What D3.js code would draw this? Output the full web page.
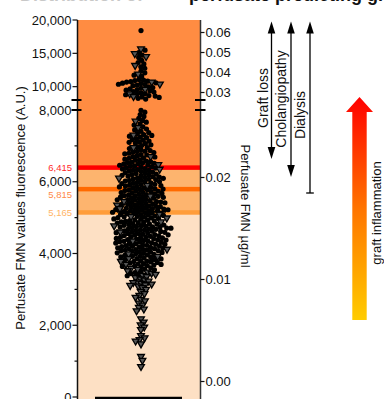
<!DOCTYPE html>
<html>
<head>
<meta charset="utf-8">
<script src="https://cdn.jsdelivr.net/npm/d3@7"></script>
<style>
  body { margin: 0; background: #fff; }
  svg { display: block; font-family: Arial, "Liberation Sans", sans-serif; }
</style>
</head>
<body>
<div id="chart"></div>
<script>
// perfusate FMN fluorescence (A.U.) per donor liver
var circleVals = [
  18420, 15480, 15120, 14730, 14380, 13950, 13620, 13410, 12980, 12760, 12350, 12080, 11720, 11540,
  11060, 10980, 10910, 10820, 10760, 10690, 10580, 10530, 10470, 10360, 10310, 10230, 10150,
  9980, 9870, 9760, 9690, 9540, 9470, 9380, 9260, 9190, 9070, 8960, 8880, 8790, 8670, 8590, 8460, 8380, 8250, 8140,
  7990, 7940, 7875, 7820,
  7765, 7710, 7660, 7615, 7580, 7530, 7470, 7445, 7405, 7370,
  7345, 7315, 7290, 7270, 7245, 7230, 7200, 7175, 7160, 7135, 7110, 7100, 7080,
  7060, 7030, 7010, 6970, 6955, 6925, 6890, 6870, 6850, 6845, 6830,
  6815, 6795, 6780, 6755, 6745, 6720, 6700, 6690, 6660, 6655, 6630, 6610, 6600, 6575, 6565, 6545, 6535, 6525,
  6515, 6500, 6490, 6465, 6460, 6440, 6430, 6420, 6405, 6395, 6380, 6365, 6355, 6340, 6320, 6315, 6295, 6285,
  6270, 6255, 6245, 6230, 6210, 6200, 6190,
  6180, 6165, 6155, 6140, 6130, 6120, 6105, 6095, 6080, 6070, 6060, 6045, 6035, 6020, 6005, 5995, 5985, 5970,
  5955, 5950, 5930, 5920, 5905, 5895, 5880, 5870, 5855, 5845, 5830, 5820, 5805, 5795, 5785, 5775,
  5765, 5755, 5740, 5735, 5720, 5705, 5700, 5685, 5675, 5665, 5650, 5640, 5630, 5615, 5605, 5595, 5585, 5570,
  5565, 5550, 5540, 5530, 5515, 5505, 5495, 5485, 5470, 5460, 5450, 5435, 5425, 5415, 5405, 5395, 5385, 5370,
  5360, 5350, 5340, 5325, 5315, 5305, 5295, 5285, 5270, 5260, 5250, 5240, 5230, 5225, 5220, 5215,
  5205, 5195, 5180, 5170, 5160, 5150, 5140, 5125, 5115, 5105, 5090, 5080, 5070, 5060, 5045, 5035, 5025, 5010,
  5000, 4990, 4975, 4965, 4955, 4940, 4930, 4920, 4905, 4895, 4885, 4870, 4860, 4850, 4835, 4825, 4815, 4805,
  4795, 4785, 4775, 4765, 4755, 4745, 4740,
  4730, 4720, 4710, 4705, 4690, 4680, 4675, 4660, 4650, 4640, 4630, 4620, 4615, 4600, 4590, 4580, 4570, 4560,
  4555, 4540, 4530, 4520, 4510, 4500, 4495, 4480, 4470, 4460, 4450, 4440, 4435, 4420, 4410, 4400, 4390, 4380,
  4375, 4360, 4350, 4340, 4330, 4320, 4315, 4300, 4290, 4280, 4270, 4260, 4255, 4240, 4230, 4220, 4210, 4200,
  4195, 4180, 4170, 4160, 4150, 4140, 4135, 4120, 4110, 4100, 4090, 4080, 4075, 4060, 4050, 4040, 4030, 4020,
  4005, 3990, 3975, 3960, 3945, 3930, 3920, 3905, 3890, 3875, 3860, 3850, 3835, 3820, 3805, 3790, 3780, 3765,
  3750, 3735, 3720, 3710, 3695, 3680, 3665, 3650, 3640, 3625,
  3600, 3570, 3545, 3500, 3470, 3440, 3410, 3380
];
var triangleVals = [
  15660, 14950, 14520, 13180, 11890, 10700, 10390, 9620, 8920, 8530,
  7690, 7510, 7300, 6950, 6700, 6480, 6350, 6100, 5900, 5600, 5450, 5350, 5250, 5100, 5030, 4990,
  4880, 4770, 4600, 4350, 4120, 3990, 3920, 3860, 3780, 3700,
  3590, 3560, 3520, 3480, 3450, 3420, 3390, 3360, 3330, 3290, 3260, 3230, 3210, 3190, 3170, 3150,
  3130, 3110, 3090, 3050, 3000, 2940, 2880, 2830, 2780, 2720, 2680, 2620, 2560, 2500, 2450, 2400,
  2180, 2090, 2010, 1950, 1880, 1710, 1650, 1600, 1560, 1480, 1130, 1020, 850
];
var medianVal = 5165;

// axis ticks
var leftMajorLow = [0, 2000, 4000, 6000, 8000];
var leftMinorLow = [1000, 3000, 5000, 7000];
var leftMajorHigh = [10000, 15000, 20000];
var rightTicksLow = [0, 0.01, 0.02];
var rightTicksHigh = [0.03, 0.04, 0.05, 0.06];

// cut-off values and their labels
var cutoffs = [6415, 5815, 5165];
var cutoffLabels = ["6,415", "5,815", "5,165"];
var outcomes = ["Graft loss", "Cholangiopathy", "Dialysis"];

var W = 384, H = 399;
var axL = 77.5, axR = 200.5, cx = 141;

var svg = d3.select("#chart").append("svg").attr("width", W).attr("height", H);

// broken y axis: lower and upper segment
var yLow = d3.scaleLinear().domain([0, 8000]).range([397, 110]);
var yHigh = d3.scaleLinear().domain([8000, 20000]).range([100, 20]);
function yPos(v) { return v <= 8000 ? yLow(v) : yHigh(v); }
var rLow = d3.scaleLinear().domain([0, 0.02]).range([381.5, 177.5]);
var rHigh = d3.scaleLinear().domain([0.03, 0.06]).range([92.5, 32.5]);

// title (mostly cut off at the top)
svg.append("text").attr("x", 20).attr("y", 0.5).attr("font-size", 18).attr("font-weight", "bold")
  .attr("fill", "#c8c8c8").text("Distribution of");
svg.append("text").attr("x", 189).attr("y", 0.5).attr("font-size", 18).attr("font-weight", "bold")
  .attr("fill", "#111").text("perfusate predicting graft outcome");

// background bands
var bands = svg.append("g");
bands.append("rect").attr("x", axL).attr("width", axR - axL).attr("y", 20)
  .attr("height", yLow(cutoffs[0]) - 20).attr("fill", "#ff8c42");
bands.append("rect").attr("x", axL).attr("width", axR - axL).attr("y", yLow(cutoffs[0]))
  .attr("height", yLow(cutoffs[2]) - yLow(cutoffs[0])).attr("fill", "#fdb46e");
bands.append("rect").attr("x", axL).attr("width", axR - axL).attr("y", yLow(cutoffs[2]))
  .attr("height", 399 - yLow(cutoffs[2])).attr("fill", "#fde0c4");
var lineCols = ["#ff0000", "#ff6a00", "#ff9d3a"];
cutoffs.forEach(function (c, i) {
  bands.append("rect").attr("x", axL).attr("width", axR - axL)
    .attr("y", yLow(c) - 1.5).attr("height", 4.5).attr("fill", lineCols[i]);
});

// cut-off labels
var labCols = ["#ff2a2a", "#ff8a48", "#ffb466"];
var labY = [yLow(cutoffs[0]), yLow(cutoffs[1]) + 5.5, yLow(cutoffs[2])];
cutoffLabels.forEach(function (t, i) {
  svg.append("text").attr("x", 72).attr("y", labY[i] + 1).attr("dy", "0.35em")
    .attr("text-anchor", "end").attr("font-size", 9.5).attr("fill", labCols[i]).text(t);
});

// beeswarm layout
var pts = [];
circleVals.forEach(function (v) { pts.push({ v: v, shape: "c" }); });
triangleVals.forEach(function (v) { pts.push({ v: v, shape: "t" }); });
pts.forEach(function (p) { p.y = yPos(p.v); });
pts.sort(function (a, b) { return a.y - b.y; });
var gap = 4.2;
var placed = [];
pts.forEach(function (p) {
  var near = placed.filter(function (q) { return Math.abs(q.y - p.y) < gap; });
  var cands = [0];
  near.forEach(function (q) {
    var d = Math.sqrt(gap * gap - (q.y - p.y) * (q.y - p.y));
    cands.push(q.dx + d, q.dx - d);
  });
  cands.sort(function (a, b) { return Math.abs(a) - Math.abs(b); });
  for (var k = 0; k < cands.length; k++) {
    var c = cands[k];
    var ok = near.every(function (q) {
      return (q.dx - c) * (q.dx - c) + (q.y - p.y) * (q.y - p.y) >= gap * gap - 0.01;
    });
    if (ok) { p.dx = c; break; }
  }
  placed.push(p);
});

var dots = svg.append("g");
dots.selectAll("circle").data(pts.filter(function (p) { return p.shape === "c"; }))
  .enter().append("circle")
  .attr("cx", function (d) { return cx + d.dx; })
  .attr("cy", function (d) { return d.y; })
  .attr("r", 2.6).attr("fill", "#000");
var tri = d3.symbol().type(d3.symbolTriangle).size(20);
dots.selectAll("path").data(pts.filter(function (p) { return p.shape === "t"; }))
  .enter().append("path")
  .attr("d", tri)
  .attr("transform", function (d) { return "translate(" + (cx + d.dx) + "," + d.y + ") rotate(180)"; })
  .attr("fill", "#555").attr("stroke", "#000").attr("stroke-width", 1.3);

// median line and category base
svg.append("line").attr("x1", 117).attr("x2", 166).attr("y1", yLow(medianVal)).attr("y2", yLow(medianVal))
  .attr("stroke", "#000").attr("stroke-width", 2);
svg.append("line").attr("x1", 95).attr("x2", 182).attr("y1", 398).attr("y2", 398)
  .attr("stroke", "#000").attr("stroke-width", 2.5);

// left axis
var fmt = d3.format(",");
var gl = svg.append("g").attr("font-size", 13).attr("fill", "#111");
gl.append("line").attr("x1", axL).attr("x2", axL).attr("y1", 20).attr("y2", 399)
  .attr("stroke", "#111").attr("stroke-width", 1.5);
function leftTick(y, len, label) {
  gl.append("line").attr("x1", axL - len).attr("x2", axL).attr("y1", y).attr("y2", y)
    .attr("stroke", "#111").attr("stroke-width", 1.2);
  if (label) gl.append("text").attr("x", axL - 6).attr("y", y).attr("dy", "0.35em")
    .attr("text-anchor", "end").text(label);
}
leftMajorLow.forEach(function (v) { leftTick(yLow(v), 5, fmt(v)); });
leftMinorLow.forEach(function (v) { leftTick(yLow(v), 3, null); });
leftMajorHigh.forEach(function (v) { leftTick(yHigh(v), 5, fmt(v)); });

// right axis
var gr = svg.append("g").attr("font-size", 13).attr("fill", "#111");
gr.append("line").attr("x1", axR).attr("x2", axR).attr("y1", 20).attr("y2", 399)
  .attr("stroke", "#333").attr("stroke-width", 1.5);
function rightTick(y, label) {
  gr.append("line").attr("x1", axR).attr("x2", axR + 4).attr("y1", y).attr("y2", y)
    .attr("stroke", "#111").attr("stroke-width", 1.2);
  gr.append("text").attr("x", axR + 5).attr("y", y).attr("dy", "0.35em").text(label);
}
rightTicksLow.forEach(function (v) { rightTick(rLow(v), v.toFixed(2)); });
rightTicksHigh.forEach(function (v) { rightTick(rHigh(v), v.toFixed(2)); });

// axis break marks
[100, 110].forEach(function (y) {
  svg.append("line").attr("x1", axL - 6).attr("x2", axL + 4).attr("y1", y).attr("y2", y)
    .attr("stroke", "#000").attr("stroke-width", 2);
  svg.append("line").attr("x1", axR - 5.5).attr("x2", axR + 5).attr("y1", y).attr("y2", y)
    .attr("stroke", "#000").attr("stroke-width", 2);
});

// axis titles
svg.append("text").attr("transform", "translate(25,208) rotate(-90)").attr("text-anchor", "middle")
  .attr("font-size", 13).attr("fill", "#111").text("Perfusate FMN values fluorescence (A.U.)");
svg.append("text").attr("transform", "translate(241,206) rotate(90)").attr("text-anchor", "middle")
  .attr("font-size", 13).attr("fill", "#111").text("Perfusate FMN \u00b5g/ml");

// outcome arrows
var arrX = [271.5, 291, 310];
var arrBottom = [159, 177, 193];
var labX = [268, 286, 305];
var labMid = [98, 99, 115];
function head(x, yTip, dir) {
  return "M" + x + "," + yTip + "L" + (x - 3.8) + "," + (yTip + dir * 12) + "L" + (x + 3.8) + "," + (yTip + dir * 12) + "Z";
}
outcomes.forEach(function (t, i) {
  var x = arrX[i];
  svg.append("line").attr("x1", x).attr("x2", x).attr("y1", 30).attr("y2", arrBottom[i] - (i < 2 ? 8 : 0))
    .attr("stroke", "#000").attr("stroke-width", 1.3);
  svg.append("path").attr("d", head(x, 21.5, 1)).attr("fill", "#000");
  if (i < 2) svg.append("path").attr("d", head(x, arrBottom[i], -1)).attr("fill", "#000");
  else svg.append("line").attr("x1", x - 3.8).attr("x2", x + 3.8).attr("y1", arrBottom[i]).attr("y2", arrBottom[i])
    .attr("stroke", "#000").attr("stroke-width", 1.3);
  svg.append("text").attr("transform", "translate(" + labX[i] + "," + labMid[i] + ") rotate(-90)")
    .attr("text-anchor", "middle").attr("font-size", 14).attr("fill", "#111").text(t);
});

// graft inflammation gradient arrow
var grad = svg.append("defs").append("linearGradient").attr("id", "infl")
  .attr("x1", 0).attr("x2", 0).attr("y1", 0).attr("y2", 1);
grad.append("stop").attr("offset", "0%").attr("stop-color", "#ff0000");
grad.append("stop").attr("offset", "50%").attr("stop-color", "#ff7400");
grad.append("stop").attr("offset", "100%").attr("stop-color", "#ffcc00");
var ax = 359.5;
svg.append("path")
  .attr("d", "M" + ax + ",97 L" + (ax + 13.5) + ",112 L" + (ax + 7.2) + ",112 L" + (ax + 7.2) + ",320 L" +
    (ax - 7.2) + ",320 L" + (ax - 7.2) + ",112 L" + (ax - 13.5) + ",112 Z")
  .attr("fill", "url(#infl)");
svg.append("text").attr("transform", "translate(381,213) rotate(-90)").attr("text-anchor", "middle")
  .attr("font-size", 13).attr("fill", "#111").text("graft inflammation");
</script>
</body>
</html>
